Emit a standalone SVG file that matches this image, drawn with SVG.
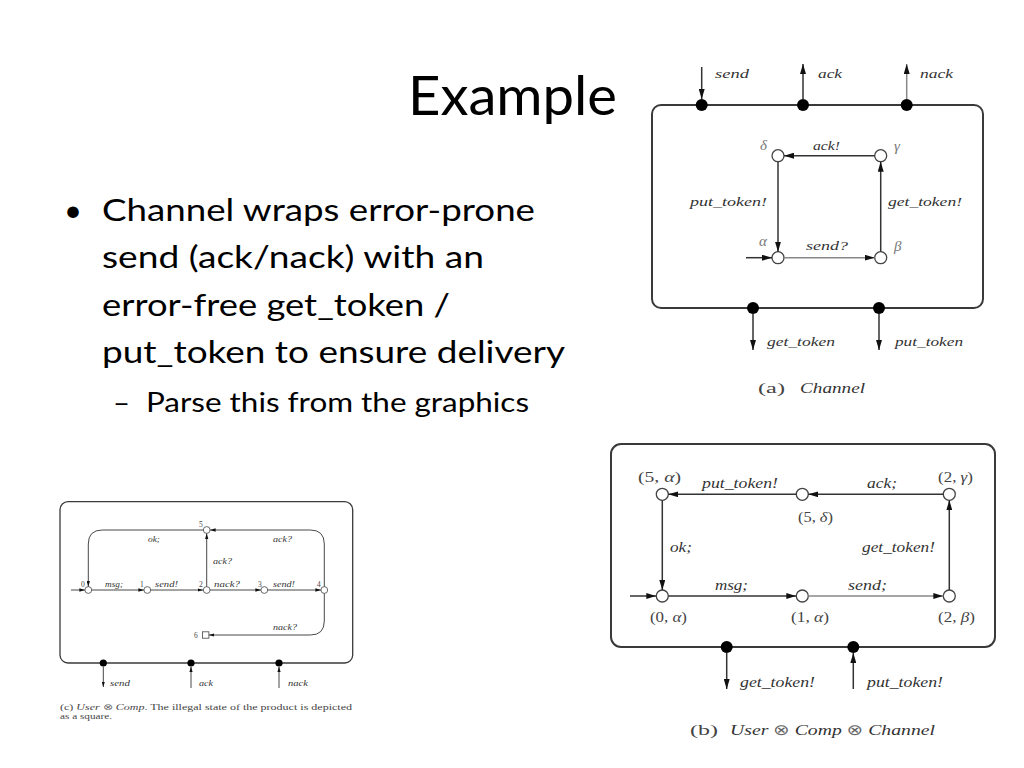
<svg xmlns="http://www.w3.org/2000/svg" width="1024" height="768" viewBox="0 0 1024 768">
<defs>
<style>
.slide{font-family:Lato,"Open Sans","Liberation Sans",sans-serif;fill:#000}
.lbl{font-family:"Liberation Serif","DejaVu Serif",serif;font-style:italic;fill:#333}
.rom{font-family:"Liberation Serif","DejaVu Serif",serif;fill:#444}
.grk{font-family:"Liberation Serif","DejaVu Serif",serif;font-style:italic;fill:#777}
.ot{font-family:"DejaVu Sans",sans-serif;font-style:normal;fill:#666}
.box{fill:none;stroke:#3a3a3a}
.st{fill:#fff;stroke:#444}
.port{fill:#000}
.e{fill:none;stroke:#333;stroke-width:1.5}
.eg{fill:none;stroke:#888;stroke-width:1.5}
.es{fill:none;stroke:#333;stroke-width:0.9}
</style>
<marker id="ah" viewBox="0 0 10 6" refX="10" refY="3" markerWidth="10" markerHeight="6" markerUnits="userSpaceOnUse" orient="auto"><path d="M0,0 L10,3 L0,6 z" fill="#111"/></marker>
<marker id="ahs" viewBox="0 0 10 6" refX="10" refY="3" markerWidth="5.5" markerHeight="3.6" markerUnits="userSpaceOnUse" orient="auto"><path d="M0,0 L10,3 L0,6 z" fill="#111"/></marker>
</defs>
<rect width="1024" height="768" fill="#fff"/>

<g id="slide-text">
<text class="slide" x="408" y="115" font-size="54" textLength="209" lengthAdjust="spacingAndGlyphs">Example</text>
<text class="slide" x="64" y="221" font-size="31">•</text>
<text class="slide" x="102" y="221" font-size="31" textLength="433" lengthAdjust="spacingAndGlyphs">Channel wraps error-prone</text>
<text class="slide" x="102" y="268" font-size="31" textLength="382" lengthAdjust="spacingAndGlyphs">send (ack/nack) with an</text>
<text class="slide" x="102" y="316" font-size="31" textLength="348" lengthAdjust="spacingAndGlyphs">error-free get_token /</text>
<text class="slide" x="102" y="363" font-size="31" textLength="463" lengthAdjust="spacingAndGlyphs">put_token to ensure delivery</text>
<text class="slide" x="113" y="412" font-size="27" textLength="17" lengthAdjust="spacingAndGlyphs">–</text>
<text class="slide" x="146" y="412" font-size="27" textLength="383" lengthAdjust="spacingAndGlyphs">Parse this from the graphics</text>
</g>

<!-- (a) Channel -->
<g id="channel">
<rect class="box" x="652" y="105" width="331" height="203" rx="9" stroke-width="2"/>
<g id="a-ports">
<circle class="port" cx="701.7" cy="105" r="6"/>
<circle class="port" cx="803" cy="105" r="6"/>
<circle class="port" cx="906.7" cy="105" r="6"/>
<circle class="port" cx="753" cy="308" r="6"/>
<circle class="port" cx="879" cy="308" r="6"/>
</g>
<g id="a-states">
<circle id="a-delta" class="st" cx="778" cy="155.7" r="6" stroke-width="1.3"/>
<circle id="a-gamma" class="st" cx="880.7" cy="155.7" r="6" stroke-width="1.3"/>
<circle id="a-alpha" class="st" cx="778" cy="257.7" r="6" stroke-width="1.3"/>
<circle id="a-beta" class="st" cx="880.7" cy="257.7" r="6" stroke-width="1.3"/>
</g>
<g id="a-edges">
<line class="e" x1="701.7" y1="67" x2="701.7" y2="99" marker-end="url(#ah)"/>
<line class="e" x1="803" y1="99" x2="803" y2="64" marker-end="url(#ah)"/>
<line class="eg" x1="906.7" y1="99" x2="906.7" y2="64" marker-end="url(#ah)"/>
<line class="e" x1="753" y1="314" x2="753" y2="350" marker-end="url(#ah)"/>
<line class="e" x1="879" y1="314" x2="879" y2="350" stroke-width="2.2" marker-end="url(#ah)"/>
<line class="e" x1="874.7" y1="155.7" x2="784" y2="155.7" stroke="#555" marker-end="url(#ah)"/>
<line class="e" x1="778" y1="161.7" x2="778" y2="251.7" marker-end="url(#ah)"/>
<line class="eg" x1="784" y1="257.7" x2="874.7" y2="257.7" marker-end="url(#ah)"/>
<line class="e" x1="880.7" y1="251.7" x2="880.7" y2="161.7" marker-end="url(#ah)"/>
<line class="e" x1="746" y1="257.7" x2="772" y2="257.7" marker-end="url(#ah)"/>
</g>
<g id="a-labels" font-size="13">
<text class="lbl" x="715" y="78" textLength="34" lengthAdjust="spacingAndGlyphs">send</text>
<text class="lbl" x="818" y="78" textLength="24" lengthAdjust="spacingAndGlyphs">ack</text>
<text class="lbl" x="920" y="78" textLength="33" lengthAdjust="spacingAndGlyphs">nack</text>
<text class="lbl" x="767" y="346" textLength="68" lengthAdjust="spacingAndGlyphs">get_token</text>
<text class="lbl" x="895" y="346" textLength="68" lengthAdjust="spacingAndGlyphs">put_token</text>
<text class="lbl" x="813" y="150" textLength="27" lengthAdjust="spacingAndGlyphs">ack!</text>
<text class="lbl" x="690" y="206" textLength="77" lengthAdjust="spacingAndGlyphs">put_token!</text>
<text class="lbl" x="888" y="206" textLength="74" lengthAdjust="spacingAndGlyphs">get_token!</text>
<text class="lbl" x="806" y="250" textLength="42" lengthAdjust="spacingAndGlyphs">send?</text>
<text class="grk" x="760" y="150" font-size="15">δ</text>
<text class="grk" x="894" y="151" font-size="15">γ</text>
<text class="grk" x="759" y="246" font-size="15">α</text>
<text class="grk" x="894" y="251" font-size="15">β</text>
<text class="rom" x="758" y="393" font-size="14" textLength="27" lengthAdjust="spacingAndGlyphs">(a)</text>
<text class="lbl" x="800" y="393" font-size="14" textLength="65" lengthAdjust="spacingAndGlyphs">Channel</text>
</g>
</g>

<!-- (b) User x Comp x Channel -->
<g id="product-b">
<rect class="box" x="611" y="444" width="384" height="203" rx="10" stroke-width="2"/>
<g id="b-ports">
<circle class="port" cx="726.7" cy="647" r="6"/>
<circle class="port" cx="853.3" cy="647" r="6"/>
</g>
<g id="b-states">
<circle class="st" cx="662.3" cy="494.3" r="6" stroke-width="1.3"/>
<circle class="st" cx="802.3" cy="494.3" r="6" stroke-width="1.3"/>
<circle class="st" cx="949.3" cy="494.3" r="6" stroke-width="1.3"/>
<circle class="st" cx="662.3" cy="596" r="6" stroke-width="1.3"/>
<circle class="st" cx="802.3" cy="596" r="6" stroke-width="1.3"/>
<circle class="st" cx="949.3" cy="596" r="6" stroke-width="1.3"/>
</g>
<g id="b-edges">
<line class="e" x1="796.3" y1="494.3" x2="668.3" y2="494.3" marker-end="url(#ah)"/>
<line class="e" x1="943.3" y1="494.3" x2="808.3" y2="494.3" marker-end="url(#ah)"/>
<line class="e" x1="662.3" y1="500.3" x2="662.3" y2="590" marker-end="url(#ah)"/>
<line class="e" x1="668.3" y1="596" x2="796.3" y2="596" marker-end="url(#ah)"/>
<line class="eg" x1="808.3" y1="596" x2="943.3" y2="596" marker-end="url(#ah)"/>
<line class="e" x1="949.3" y1="590" x2="949.3" y2="500.3" marker-end="url(#ah)"/>
<line class="e" x1="630" y1="596" x2="656.3" y2="596" marker-end="url(#ah)"/>
<line class="e" x1="726.7" y1="653" x2="726.7" y2="689" marker-end="url(#ah)"/>
<line class="e" x1="853.3" y1="689" x2="853.3" y2="653" stroke-width="2.2" marker-end="url(#ah)"/>
</g>
<g id="b-labels" font-size="14">
<text class="rom" x="638" y="482" textLength="43" lengthAdjust="spacingAndGlyphs">(5, <tspan font-style="italic">α</tspan>)</text>
<text class="rom" x="938" y="482" textLength="35" lengthAdjust="spacingAndGlyphs">(2, <tspan font-style="italic">γ</tspan>)</text>
<text class="rom" x="798" y="522" textLength="35" lengthAdjust="spacingAndGlyphs">(5, <tspan font-style="italic">δ</tspan>)</text>
<text class="rom" x="650" y="622" textLength="37" lengthAdjust="spacingAndGlyphs">(0, <tspan font-style="italic">α</tspan>)</text>
<text class="rom" x="791" y="622" textLength="38" lengthAdjust="spacingAndGlyphs">(1, <tspan font-style="italic">α</tspan>)</text>
<text class="rom" x="938" y="622" textLength="37" lengthAdjust="spacingAndGlyphs">(2, <tspan font-style="italic">β</tspan>)</text>
<text class="lbl" x="702" y="488" textLength="76" lengthAdjust="spacingAndGlyphs">put_token!</text>
<text class="lbl" x="867" y="488" textLength="30" lengthAdjust="spacingAndGlyphs">ack;</text>
<text class="lbl" x="670" y="552" textLength="22" lengthAdjust="spacingAndGlyphs">ok;</text>
<text class="lbl" x="862" y="552" textLength="73" lengthAdjust="spacingAndGlyphs">get_token!</text>
<text class="lbl" x="715" y="590" textLength="33" lengthAdjust="spacingAndGlyphs">msg;</text>
<text class="lbl" x="848" y="590" textLength="39" lengthAdjust="spacingAndGlyphs">send;</text>
<text class="lbl" x="740" y="687" textLength="75" lengthAdjust="spacingAndGlyphs">get_token!</text>
<text class="lbl" x="867" y="687" textLength="76" lengthAdjust="spacingAndGlyphs">put_token!</text>
<text class="rom" x="690" y="735" font-size="15" textLength="28" lengthAdjust="spacingAndGlyphs">(b)</text>
<text class="lbl" x="730" y="735" font-size="15" textLength="205" lengthAdjust="spacingAndGlyphs">User <tspan class="ot">⊗</tspan> Comp <tspan class="ot">⊗</tspan> Channel</text>
</g>
</g>

<!-- (c) User x Comp -->
<g id="product-c">
<rect class="box" x="60" y="501.7" width="292.7" height="161.3" rx="8" stroke-width="1.3"/>
<g id="c-ports">
<circle class="port" cx="103.3" cy="663" r="3.6"/>
<circle class="port" cx="191" cy="663" r="3.6"/>
<circle class="port" cx="279" cy="663" r="3.6"/>
</g>
<g id="c-states">
<circle class="st" cx="88.3" cy="590" r="3.4" stroke-width="0.8"/>
<circle class="st" cx="147.3" cy="590" r="3.4" stroke-width="0.8"/>
<circle class="st" cx="206.7" cy="590" r="3.4" stroke-width="0.8"/>
<circle class="st" cx="264.3" cy="590" r="3.4" stroke-width="0.8"/>
<circle class="st" cx="324.3" cy="590" r="3.4" stroke-width="0.8"/>
<circle class="st" cx="206.7" cy="530" r="3.4" stroke-width="0.8"/>
<rect class="st" x="202.5" y="631.8" width="6.4" height="6.4" stroke-width="0.8"/>
</g>
<g id="c-edges">
<line class="es" x1="71" y1="590" x2="84.9" y2="590" marker-end="url(#ahs)"/>
<line class="es" x1="91.7" y1="590" x2="143.9" y2="590" marker-end="url(#ahs)"/>
<line class="es" x1="150.7" y1="590" x2="203.3" y2="590" marker-end="url(#ahs)"/>
<line class="es" x1="210.1" y1="590" x2="260.9" y2="590" marker-end="url(#ahs)"/>
<line class="es" x1="267.7" y1="590" x2="320.9" y2="590" marker-end="url(#ahs)"/>
<line class="es" x1="206.7" y1="586.6" x2="206.7" y2="533.4" marker-end="url(#ahs)"/>
<path class="es" d="M324.3,586.6 V544 Q324.3,530 310.3,530 H210.1" marker-end="url(#ahs)"/>
<path class="es" d="M203.3,530 H102.3 Q88.3,530 88.3,544 V586.6" marker-end="url(#ahs)"/>
<path class="es" d="M324.3,593.4 V621 Q324.3,635 310.3,635 H208.9" marker-end="url(#ahs)"/>
<line class="es" x1="103.3" y1="666.6" x2="103.3" y2="687" marker-end="url(#ahs)"/>
<line class="es" x1="191" y1="688" x2="191" y2="666.6" marker-end="url(#ahs)"/>
<line class="es" x1="279" y1="688" x2="279" y2="666.6" marker-end="url(#ahs)"/>
</g>
<g id="c-labels" font-size="7.5">
<text class="rom" x="81" y="587">0</text>
<text class="rom" x="140" y="587">1</text>
<text class="rom" x="199" y="587">2</text>
<text class="rom" x="258" y="587">3</text>
<text class="rom" x="317" y="587">4</text>
<text class="rom" x="199" y="527">5</text>
<text class="rom" x="194" y="638">6</text>
<text class="lbl" x="105" y="587" textLength="18" lengthAdjust="spacingAndGlyphs">msg;</text>
<text class="lbl" x="155" y="587" textLength="23" lengthAdjust="spacingAndGlyphs">send!</text>
<text class="lbl" x="214" y="587" textLength="26" lengthAdjust="spacingAndGlyphs">nack?</text>
<text class="lbl" x="273" y="587" textLength="22" lengthAdjust="spacingAndGlyphs">send!</text>
<text class="lbl" x="148" y="542" textLength="12" lengthAdjust="spacingAndGlyphs">ok;</text>
<text class="lbl" x="273" y="542" textLength="19" lengthAdjust="spacingAndGlyphs">ack?</text>
<text class="lbl" x="213" y="564" textLength="19" lengthAdjust="spacingAndGlyphs">ack?</text>
<text class="lbl" x="273" y="630" textLength="24" lengthAdjust="spacingAndGlyphs">nack?</text>
<text class="lbl" x="110" y="686" textLength="20" lengthAdjust="spacingAndGlyphs">send</text>
<text class="lbl" x="199" y="686" textLength="14" lengthAdjust="spacingAndGlyphs">ack</text>
<text class="lbl" x="288" y="686" textLength="20" lengthAdjust="spacingAndGlyphs">nack</text>
<text class="rom" x="60" y="710" font-size="8.5" textLength="292" lengthAdjust="spacingAndGlyphs">(c) <tspan font-style="italic">User</tspan> <tspan class="ot">⊗</tspan> <tspan font-style="italic">Comp</tspan>. The illegal state of the product is depicted</text>
<text class="rom" x="60" y="719" font-size="8.5" textLength="52" lengthAdjust="spacingAndGlyphs">as a square.</text>
</g>
</g>
</svg>
